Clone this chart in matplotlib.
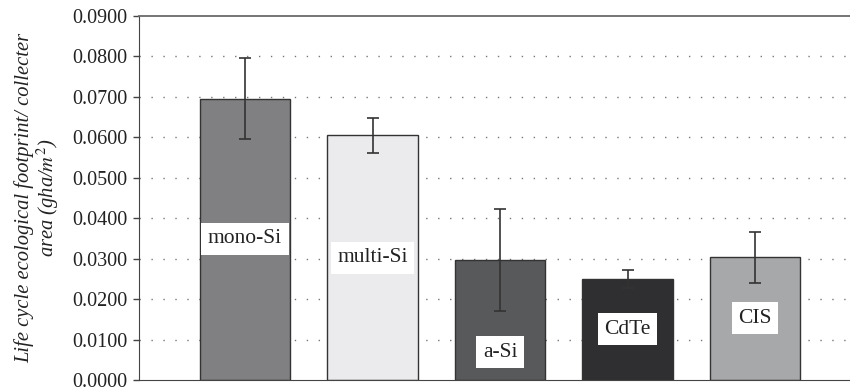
import numpy as np
import matplotlib.pyplot as plt

# footprint per collector area for each PV technology
technologies = ["mono-Si", "multi-Si", "a-Si", "CdTe", "CIS"]
footprint = [0.0695, 0.0605, 0.0297, 0.0250, 0.0304]
footprint_err = [0.0100, 0.0044, 0.0127, 0.0022, 0.0063]
label_heights = [0.0349, 0.0302, 0.0069, 0.0126, 0.0153]
bar_colors = ["#808083", "#ebebed", "#58595b", "#2f2e30", "#a7a8aa"]

yticks = np.arange(0, 0.0901, 0.01)

plt.rcParams['font.family'] = ['Liberation Serif', 'DejaVu Serif']
plt.rcParams['mathtext.fontset'] = 'stix'

fig = plt.figure(figsize=(8.5, 3.89), dpi=100)
ax = fig.add_axes([0.163, 0.0231, 0.837, 0.9357])

x = np.arange(len(technologies))
ax.bar(x, footprint, width=0.71, color=bar_colors, edgecolor="#333333",
       linewidth=1.0, zorder=2)
ax.errorbar(x, footprint, yerr=footprint_err, fmt="none", ecolor="#333333",
            elinewidth=1.2, capsize=4.2, capthick=1.2, zorder=3)

for xi, name, h in zip(x, technologies, label_heights):
    ax.text(xi, h, name, ha="center", va="center", fontsize=15.5, color="#222222",
            zorder=4, bbox=dict(boxstyle="square,pad=0.3", fc="white", ec="none"))

ax.set_xlim(-0.835, 4.745)
ax.set_ylim(0, 0.09)
ax.set_yticks(yticks)
ax.set_yticklabels(["{:.4f}".format(v) for v in yticks], fontsize=14.5, color="#222222")
ax.set_xticks([])

for v in yticks[1:-1]:
    ax.axhline(v, color="#777777", linewidth=1.0, linestyle=(0, (1, 7.6)), zorder=1)

ax.spines['right'].set_visible(False)
ax.spines['top'].set_color("#6a6a6a")
ax.spines['top'].set_linewidth(1.3)
ax.spines['left'].set_color("#444444")
ax.spines['bottom'].set_color("#444444")
ax.tick_params(axis='y', direction='out', length=4, width=1.0, color="#444444", pad=4)

ax.set_ylabel("Life cycle ecological footprint/ collecter\narea (gha/$m^2$)",
              fontsize=14.8, fontstyle="italic", color="#222222", linespacing=1.0,
              labelpad=8)

fig.savefig("out.png", dpi=100)
